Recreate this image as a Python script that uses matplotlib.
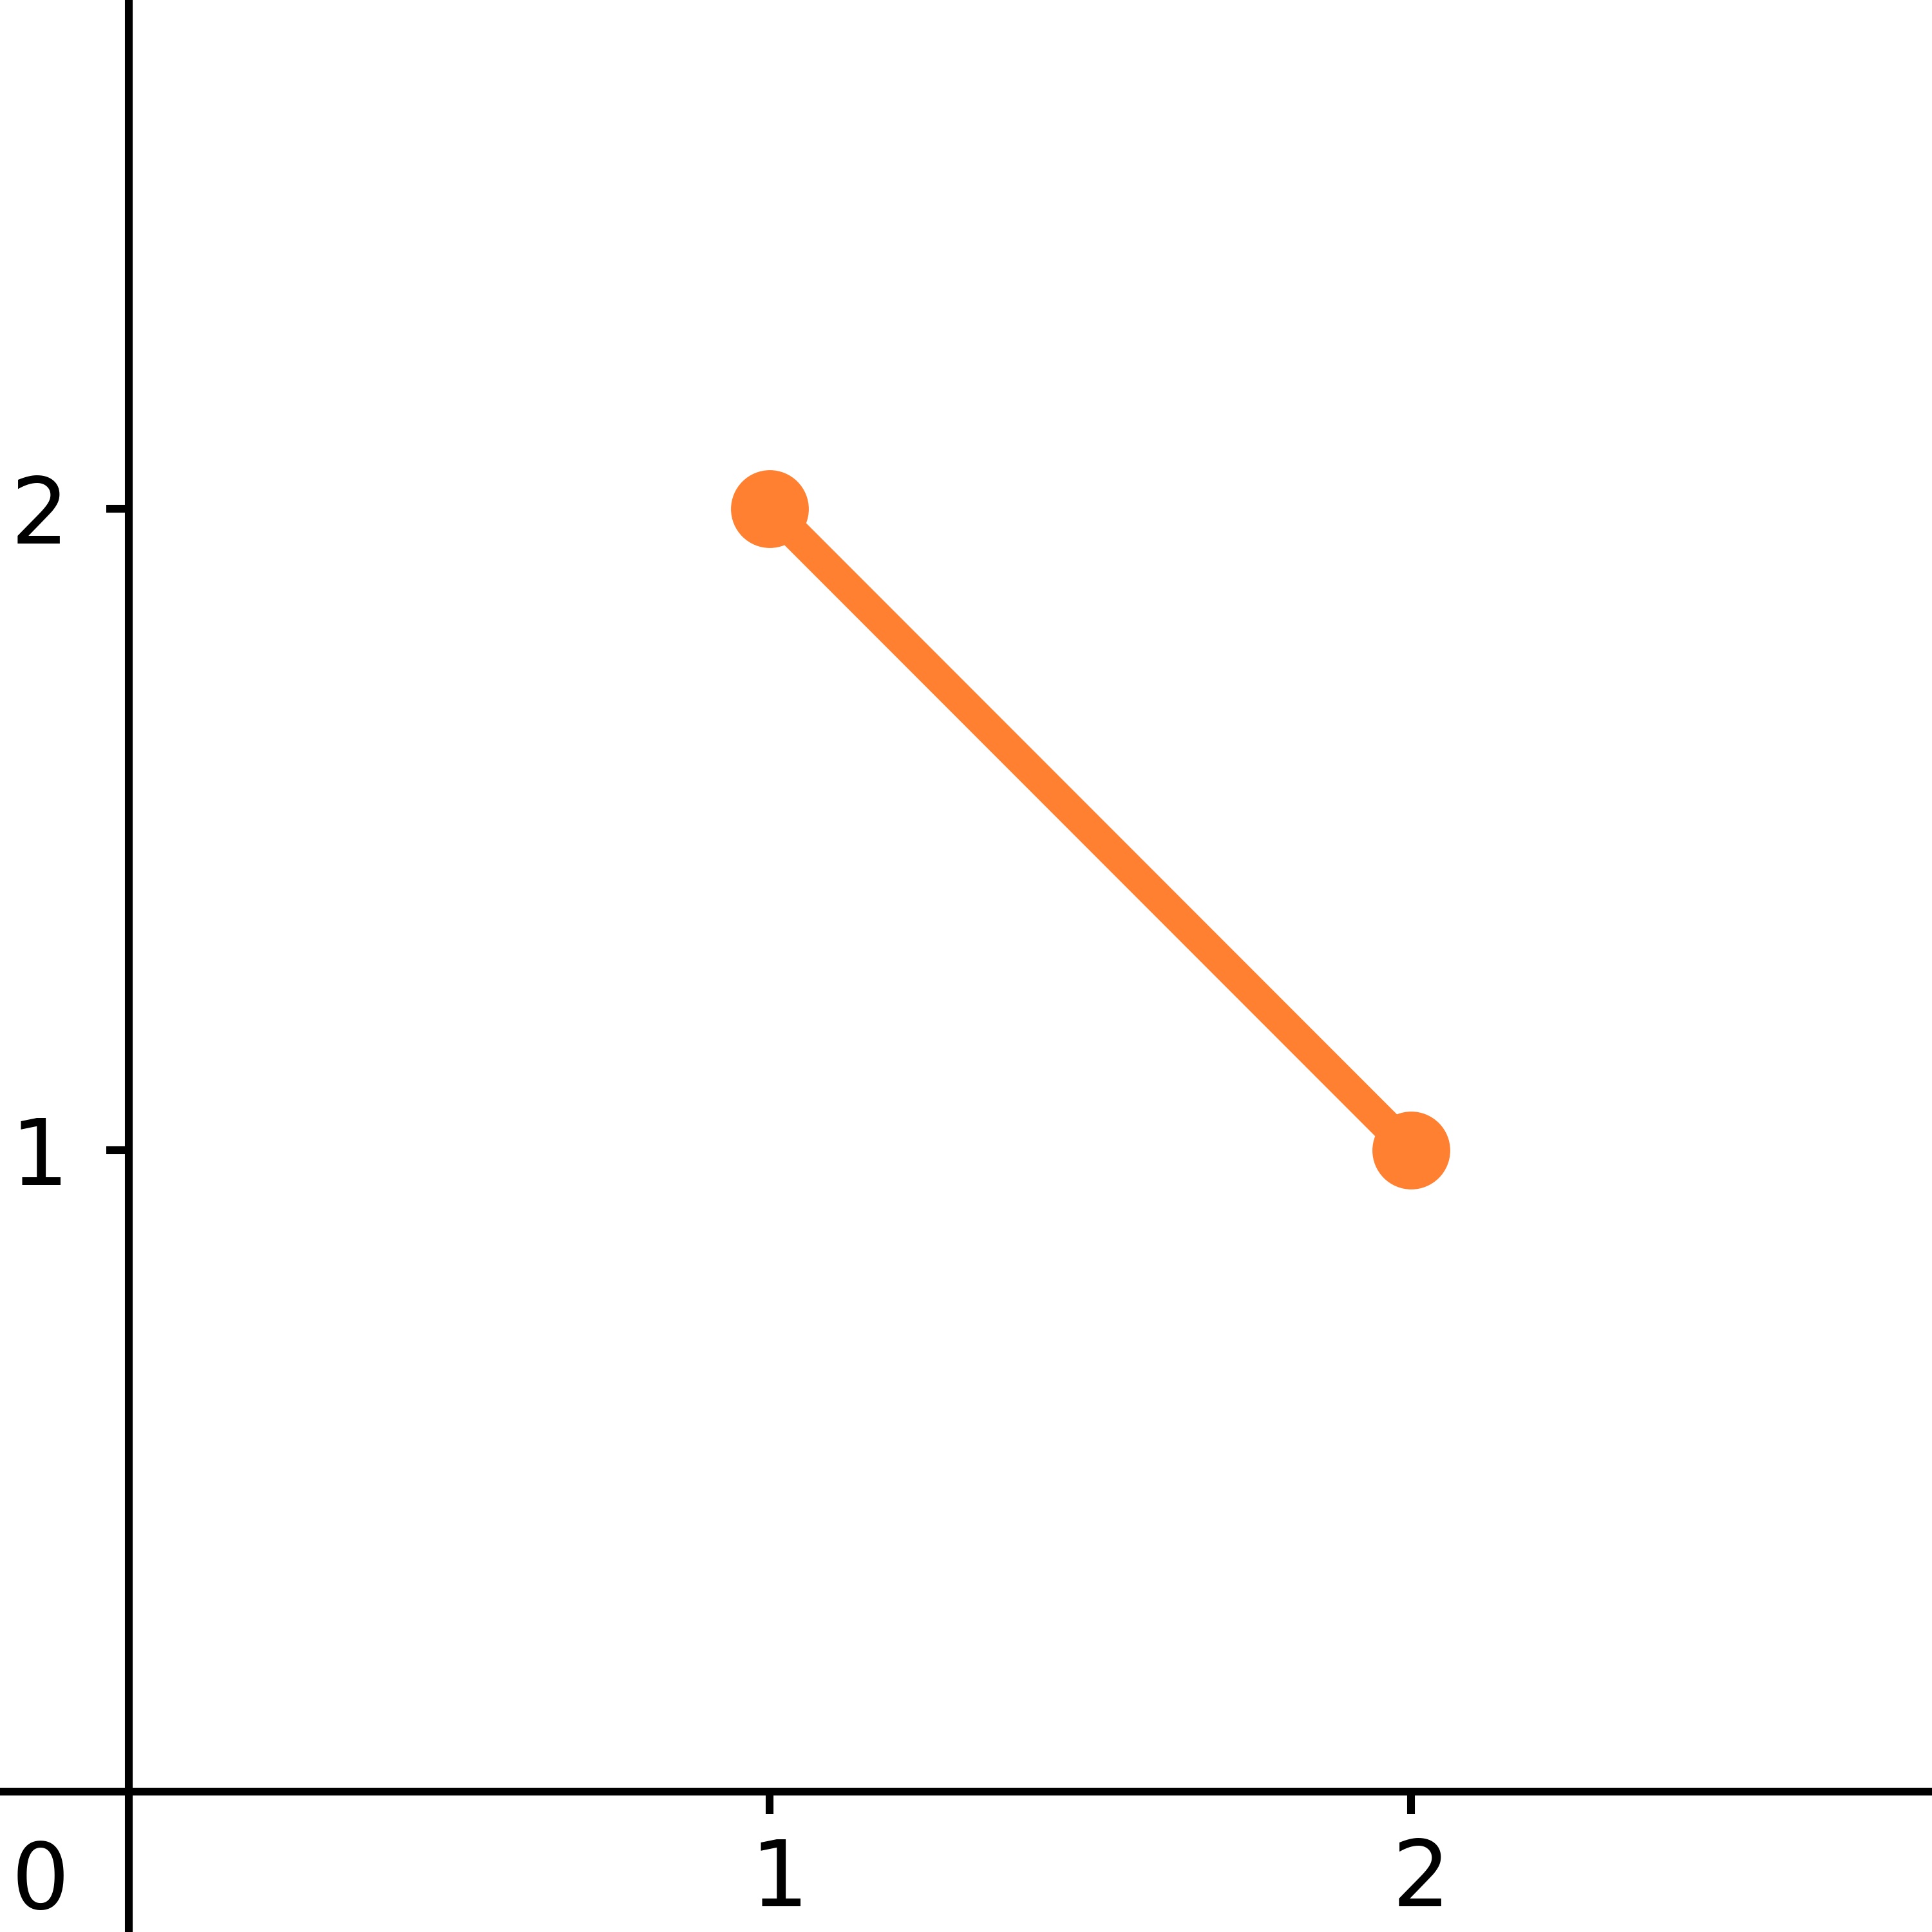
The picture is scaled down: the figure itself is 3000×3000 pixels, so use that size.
import matplotlib
matplotlib.use('Agg')
import matplotlib.pyplot as plt
from matplotlib.transforms import ScaledTranslation

# data
xs = [1, 2]
ys = [2, 1]
xtick_vals = [1, 2]
ytick_vals = [1, 2]
origin_label = '0'

fig = plt.figure(figsize=(10, 10), dpi=300)
ax = fig.add_axes([0, 0, 1, 1])

ax.plot(xs, ys, color='#ff8030', linewidth=11.5, marker='o', markersize=28,
        solid_capstyle='butt')

ax.set_xlim(-0.201, 2.813)
ax.set_ylim(-0.219, 2.793)

# axes through the origin
for side in ['top', 'right']:
    ax.spines[side].set_visible(False)
for side in ['left', 'bottom']:
    ax.spines[side].set_position(('data', 0))
    ax.spines[side].set_linewidth(2.9)

ax.set_xticks(xtick_vals)
ax.set_yticks(ytick_vals)
ax.set_xticklabels([str(v) for v in xtick_vals])
ax.set_yticklabels([str(v) for v in ytick_vals])
ax.tick_params(axis='both', length=8.5, width=2.9, labelsize=34)
ax.tick_params(axis='x', pad=8)
ax.tick_params(axis='y', pad=14)

# labels sit a little right of their ticks in the reference
shift = ScaledTranslation(3.7 / 72, 0, fig.dpi_scale_trans)
for lbl in ax.get_xticklabels():
    lbl.set_transform(lbl.get_transform() + shift)

# single label at the origin
ax.annotate(origin_label, xy=(0, 0), xytext=(-33, -17.5), textcoords='offset points',
            ha='center', va='top', fontsize=34)

fig.savefig('out.png', dpi=300)
